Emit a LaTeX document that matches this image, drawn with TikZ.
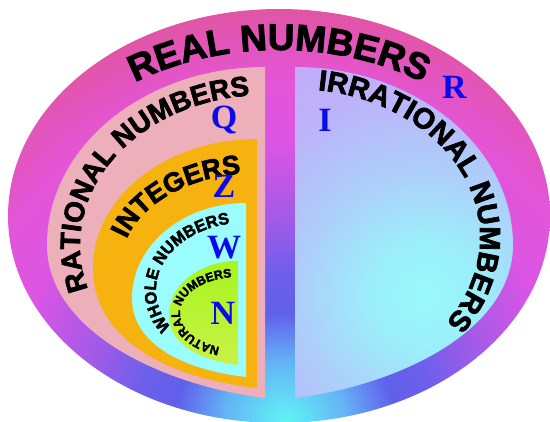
\documentclass[tikz,border=0pt]{standalone}
\usepackage{fontspec}
\newfontfamily\heavy{Liberation Sans}[FakeBold=2.5]
\newfontfamily\tms{Liberation Serif}
\usetikzlibrary{decorations.text}
\definecolor{ratpink}{RGB}{237,176,186}
\definecolor{intorange}{RGB}{246,178,14}
\definecolor{wholecyan}{RGB}{154,252,252}
\definecolor{natA}{RGB}{168,245,30}
\definecolor{natB}{RGB}{200,242,72}
\definecolor{letterblue}{RGB}{10,10,235}
\pgfdeclareradialshading{outershade}{\pgfpointorigin}{%
 rgb(0bp)=(.376,.961,.961); rgb(3.6bp)=(.392,.706,.961); rgb(6.5bp)=(.376,.376,.922);
 rgb(8.9bp)=(.431,.373,.922); rgb(11.9bp)=(.627,.353,.91); rgb(16.7bp)=(.863,.333,.894);
 rgb(20.2bp)=(.894,.333,.843); rgb(25bp)=(.882,.333,.627); rgb(50bp)=(.882,.333,.627)}
\pgfdeclareradialshading{irrshade}{\pgfpointorigin}{%
 rgb(0bp)=(.596,.973,.98); rgb(4.2bp)=(.608,.941,.98); rgb(10bp)=(.675,.816,.98);
 rgb(16.7bp)=(.737,.706,.98); rgb(25bp)=(.784,.647,.98); rgb(50bp)=(.784,.647,.98)}
\tikzset{
 bl/.style={font=\tms\bfseries\fontsize{34}{34}\selectfont, text=letterblue, inner sep=0pt, anchor=base},
}
\begin{document}
\begin{tikzpicture}[x=1pt,y=-1pt]
\useasboundingbox (0,0) rectangle (550,422);
% outer ellipse
\begin{scope}
\clip (279,216) ellipse [x radius=271, y radius=207];
\shade[shading=outershade] (285,422) circle [radius=420];
\end{scope}
% rational
\fill[ratpink] (265,67) arc[start angle=270,end angle=180,x radius=218,y radius=178]
  .. controls (47,330) and (160,385) .. (265,398) -- cycle;
% irrational
\begin{scope}
\clip (295,67) arc[start angle=270,end angle=360,x radius=218,y radius=178]
  .. controls (513,330) and (400,385) .. (295,398) -- cycle;
\shade[shading=irrshade] (425,295) circle [radius=300];
\end{scope}
% integers
\fill[intorange] (257,139) arc[start angle=270,end angle=180,x radius=164,y radius=129]
  .. controls (93,338) and (165,378) .. (257,388) -- cycle;
% whole
\fill[wholecyan] (246,203) arc[start angle=270,end angle=180,x radius=114,y radius=95]
  .. controls (132,345) and (185,370) .. (246,377) -- cycle;
% natural
\shade[top color=natA, bottom color=natB] (238,261) arc[start angle=270,end angle=180,x radius=69,y radius=54]
  .. controls (169,345) and (200,360) .. (238,365) -- cycle;
% curved labels
\path[decorate, decoration={text along path, text align=center,
  text={|\heavy\bfseries\fontsize{37}{37}\selectfont|REAL NUMBERS}}]
  ([shift={(200:244 and 168)}]279,218) arc[start angle=200,end angle=340,x radius=244,y radius=168];
\path[decorate, decoration={text along path, text align=center,
  text={|\heavy\bfseries\fontsize{28}{28}\selectfont|RATIONAL NUMBERS}}]
  ([shift={(140:185 and 150)}]265,245) arc[start angle=140,end angle=285,x radius=185,y radius=150];
\path[decorate, decoration={text along path, text align=center,
  text={|\heavy\bfseries\fontsize{29}{29}\selectfont|IRRATIONAL NUMBERS}}]
  ([shift={(262:185 and 148)}]295,237) arc[start angle=262,end angle=412,x radius=185,y radius=148];
\path[decorate, decoration={text along path, text align=center,
  text={|\heavy\bfseries\fontsize{27}{27}\selectfont|INTEGERS}}]
  ([shift={(172:136 and 92)}]257,265) arc[start angle=172,end angle=280,x radius=136,y radius=92];
\path[decorate, decoration={text along path, text align=center,
  text={|\heavy\bfseries\fontsize{16.5}{16.5}\selectfont|WHOLE NUMBERS}}]
  ([shift={(130:90 and 67.5)}]246,290) arc[start angle=130,end angle=274,x radius=90,y radius=67.5];
\path[decorate, decoration={text along path, text align=center,
  text={|\heavy\bfseries\fontsize{12.3}{12.3}\selectfont|NATURAL NUMBERS}}]
  ([shift={(95:58 and 36)}]238,313) arc[start angle=95,end angle=277,x radius=58,y radius=36];
% blue letters
\node[bl] (R) at (454.5,99) {R};
\node[bl] (I) at (325,132) {I};
\node[bl] (Q) at (224,129) {Q};
\node[bl] (Z) at (224,198) {Z};
\node[bl] (W) at (224,259) {W};
\node[bl] (N) at (223,325) {N};
\end{tikzpicture}
\end{document}
